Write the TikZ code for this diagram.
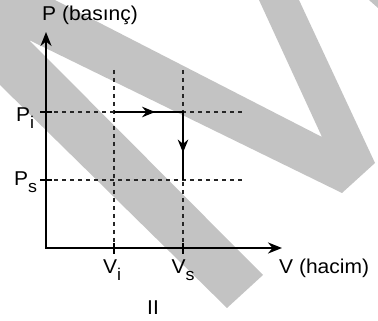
\documentclass[tikz,border=0pt]{standalone}
\usepackage{fontspec}
\setmainfont[FakeStretch=1.05]{Liberation Sans}
\usepackage{tikz}
\usetikzlibrary{arrows.meta,decorations.markings}
\definecolor{markgray}{RGB}{195,195,195}
\newcommand{\lowidx}[1]{\raisebox{-7pt}{\fontsize{17}{17}\selectfont #1}}
\tikzset{
  axisline/.style={line width=2.2pt,
    {Stealth[length=14pt,width=11pt]}-{Stealth[length=14pt,width=11pt]}},
  tickline/.style={line width=2pt},
  guideline/.style={draw=black!85,line width=1.3pt,dash pattern=on 4pt off 4pt},
  processline/.style={line width=2pt,postaction={decorate},
    decoration={markings,
      mark=at position 0.3 with {\arrow{Stealth[length=13pt,width=10.5pt]}},
      mark=at position 0.8 with {\arrow{Stealth[length=13pt,width=10.5pt]}}}},
  axislabel/.style={font=\fontsize{20}{23}\selectfont,inner sep=0pt}
}

\begin{document}
\begin{tikzpicture}[x=1pt,y=1pt]
  \useasboundingbox (0,0) rectangle (378,321);
  % watermark behind
  \fill[markgray] (0,321)--(55,321)--(322,184)--(259,321)--(299,321)
    --(375,158)--(342,128)--(29,281)--(263,46)--(227,13)--(0,236)--cycle;
  \fill[markgray] (369,321)--(378,321)--(378,313)--cycle;
  % points
  \coordinate (O) at (46,73);
  \coordinate (Ptop) at (46,289);
  \coordinate (Vend) at (282,73);
  \coordinate (Pi) at (46,209);
  \coordinate (Ps) at (46,141);
  \coordinate (Vi) at (114,73);
  \coordinate (Vs) at (183,73);
  \coordinate (A) at (114,209);
  \coordinate (B) at (183,209);
  \coordinate (C) at (183,141);
  \coordinate (Vitop) at (114,251);
  \coordinate (Vstop) at (183,251);
  \coordinate (Piend) at (244,209);
  \coordinate (Psend) at (245,141);
  % dashed guides
  \draw[guideline] (Vitop) -- (Vi);
  \draw[guideline] (Vstop) -- (Vs);
  \draw[guideline] (Pi) -- (Piend);
  \draw[guideline] (Ps) -- (Psend);
  % axes and ticks
  \draw[axisline] (Ptop) -- (O) -- (Vend);
  \draw[tickline] ([xshift=-6pt]Pi) -- ([xshift=6pt]Pi);
  \draw[tickline] ([xshift=-6pt]Ps) -- ([xshift=6pt]Ps);
  \draw[tickline] ([yshift=-6pt]Vi) -- ([yshift=5pt]Vi);
  \draw[tickline] ([yshift=-6pt]Vs) -- ([yshift=5pt]Vs);
  % process
  \draw[processline] (A) -- (B) -- (C);
  % labels
  \node[axislabel,anchor=base west] (Plabel) at (42,300) {P (basınç)};
  \node[axislabel,anchor=base west] (Pilabel) at (16,199) {P\lowidx{i}};
  \node[axislabel,anchor=base west] (Pslabel) at (14,135) {P\lowidx{s}};
  \node[axislabel,anchor=base] (Vilabel) at (112,47) {V\lowidx{i}};
  \node[axislabel,anchor=base] (Vslabel) at (183,47) {V\lowidx{s}};
  \node[axislabel,anchor=base west] (Vlabel) at (279,47) {V (hacim)};
  \node[axislabel,anchor=base] (caselabel) at (153,6) {II};
\end{tikzpicture}
\end{document}
